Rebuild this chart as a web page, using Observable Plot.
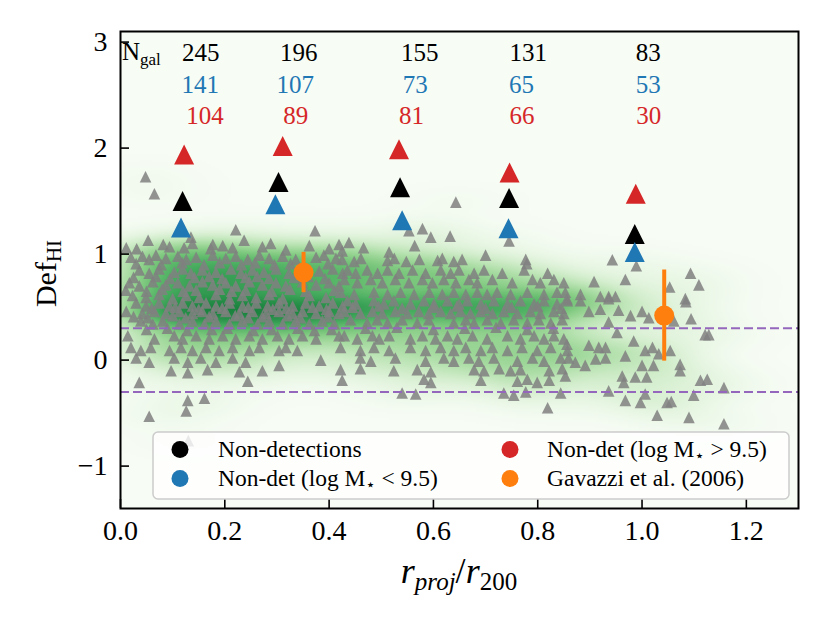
<!DOCTYPE html>
<html><head><meta charset="utf-8">
<script src="https://cdn.jsdelivr.net/npm/d3@7"></script>
<script src="https://cdn.jsdelivr.net/npm/@observablehq/plot@0.6"></script>
<style>body{margin:0;background:#fff}</style>
</head><body><div id="chart"></div>
<script>
// ---- data ----
const grayNonDet = [
[0.048,1.73],[0.065,1.57],[0.053,1.13],[0.082,1.09],[0.135,1.16],[0.221,1.23],[0.237,1.13],[0.373,1.22],[0.177,1.09],
[0.011,1.06],[0.031,1.05],[0.094,1.07],[0.122,1.06],[0.138,1.10],[0.173,1.05],[0.196,1.08],[0.215,1.06],[0.272,1.07],[0.288,1.10],[0.317,1.04],[0.362,1.08],[0.400,1.05],[0.419,1.09],
[0.020,0.97],[0.042,0.98],[0.055,0.95],[0.068,0.99],[0.087,0.96],[0.110,0.98],[0.126,0.95],[0.145,0.97],[0.177,0.99],[0.202,0.96],[0.221,0.98],[0.244,0.95],[0.266,0.99],[0.285,0.96],[0.311,0.98],[0.336,0.95],[0.375,0.97],[0.390,0.99],[0.413,0.96],
[0.030,0.91],[0.078,0.90],[0.118,0.92],[0.160,0.90],[0.190,0.92],[0.232,0.90],[0.258,0.92],[0.295,0.90],[0.326,0.91],[0.352,0.89],[0.398,0.91],
[0.036,0.85],[0.055,0.82],[0.074,0.86],[0.103,0.83],[0.119,0.86],[0.135,0.82],[0.157,0.85],[0.183,0.83],[0.212,0.86],[0.231,0.82],[0.253,0.85],[0.275,0.83],[0.298,0.86],[0.323,0.82],[0.381,0.84],[0.407,0.86],[0.426,0.82],
[0.025,0.78],[0.068,0.79],[0.095,0.77],[0.142,0.78],[0.170,0.79],[0.195,0.77],[0.240,0.78],[0.262,0.79],[0.285,0.77],[0.333,0.78],[0.360,0.79],[0.392,0.77],
[0.017,0.73],[0.036,0.70],[0.062,0.74],[0.087,0.71],[0.110,0.73],[0.132,0.70],[0.157,0.74],[0.177,0.71],[0.202,0.73],[0.221,0.70],[0.247,0.74],[0.272,0.71],[0.298,0.73],[0.317,0.70],[0.349,0.74],[0.375,0.71],[0.400,0.73],[0.419,0.70],
[0.010,0.66],[0.050,0.65],[0.080,0.67],[0.120,0.65],[0.145,0.66],[0.190,0.67],[0.213,0.65],[0.240,0.66],[0.290,0.65],[0.325,0.67],[0.355,0.65],[0.410,0.66],
[0.023,0.61],[0.049,0.59],[0.074,0.62],[0.100,0.58],[0.126,0.61],[0.151,0.59],[0.183,0.62],[0.209,0.58],[0.234,0.61],[0.260,0.59],[0.285,0.62],[0.311,0.58],[0.362,0.61],[0.394,0.59],
[0.030,0.54],[0.049,0.51],[0.074,0.54],[0.094,0.51],[0.119,0.54],[0.138,0.51],[0.164,0.54],[0.183,0.51],[0.209,0.54],[0.234,0.51],[0.260,0.54],[0.282,0.51],[0.304,0.54],[0.330,0.51],[0.355,0.54],[0.381,0.51],[0.407,0.54],[0.426,0.51],
[0.060,0.49],[0.105,0.50],[0.150,0.48],[0.195,0.49],[0.245,0.50],[0.292,0.48],[0.318,0.49],[0.368,0.50],[0.395,0.48],
[0.011,0.46],[0.042,0.44],[0.065,0.46],[0.087,0.44],[0.113,0.46],[0.138,0.44],[0.157,0.46],[0.177,0.44],[0.202,0.46],[0.228,0.44],[0.253,0.46],[0.279,0.44],[0.304,0.46],[0.330,0.44],[0.349,0.46],[0.375,0.44],[0.400,0.46],[0.419,0.44],
[0.025,0.41],[0.052,0.40],[0.100,0.42],[0.125,0.40],[0.170,0.41],[0.220,0.42],[0.245,0.40],[0.272,0.41],[0.320,0.42],[0.345,0.40],[0.398,0.41],
[0.039,0.37],[0.062,0.34],[0.081,0.37],[0.113,0.34],[0.138,0.37],[0.161,0.34],[0.183,0.37],[0.209,0.34],[0.234,0.37],[0.263,0.34],[0.285,0.37],[0.311,0.34],[0.336,0.37],[0.362,0.34],[0.387,0.37],[0.410,0.34],
[0.050,0.29],[0.090,0.30],[0.128,0.28],[0.175,0.29],[0.205,0.30],[0.255,0.28],[0.290,0.29],[0.340,0.30],[0.372,0.28],[0.405,0.29],
[0.014,0.23],[0.065,0.20],[0.103,0.23],[0.119,0.20],[0.145,0.23],[0.170,0.20],[0.196,0.23],[0.221,0.20],[0.247,0.23],[0.272,0.20],[0.301,0.23],[0.323,0.20],[0.349,0.23],[0.375,0.20],[0.419,0.23],
[0.020,0.12],[0.039,0.09],[0.058,0.12],[0.094,0.09],[0.116,0.12],[0.138,0.09],[0.164,0.12],[0.189,0.09],[0.215,0.12],[0.247,0.09],[0.266,0.12],[0.304,0.09],[0.317,0.12],[0.339,0.09],
[0.030,0.02],[0.055,-0.02],[0.103,0.02],[0.129,-0.02],[0.154,0.02],[0.183,-0.02],[0.215,0.02],[0.240,-0.02],[0.384,0.00],
[0.097,-0.10],[0.129,-0.12],[0.167,-0.09],[0.228,-0.11],[0.272,-0.10],[0.304,-0.05],
[0.036,-0.21],[0.244,-0.20],[0.129,-0.38],[0.161,-0.36],[0.126,-0.48],[0.055,-0.53],[0.130,-0.76],
[0.643,1.49],[0.579,1.24],[0.595,1.16],[0.632,1.17],[0.553,1.22],[0.745,1.125],[0.700,0.99],[0.564,1.08],[0.466,1.06],[0.438,1.11],
[0.425,1.03],[0.515,1.02],
[0.425,0.95],[0.448,0.93],[0.461,0.96],[0.512,0.94],[0.525,0.96],[0.548,0.93],[0.573,0.95],[0.608,0.94],[0.617,0.96],[0.639,0.93],[0.655,0.95],[0.777,0.95],[0.779,0.91],
[0.435,0.85],[0.451,0.82],[0.473,0.85],[0.493,0.82],[0.512,0.85],[0.534,0.82],[0.560,0.85],[0.585,0.82],[0.614,0.85],[0.633,0.82],[0.649,0.85],[0.678,0.82],[0.697,0.85],[0.732,0.82],[0.774,0.85],[0.819,0.82],
[0.429,0.76],[0.454,0.73],[0.480,0.76],[0.502,0.73],[0.527,0.76],[0.553,0.73],[0.579,0.76],[0.598,0.73],[0.620,0.76],[0.643,0.73],[0.668,0.76],[0.684,0.73],[0.713,0.76],[0.751,0.73],[0.790,0.76],[0.805,0.73],[0.831,0.76],[0.850,0.73],
[0.422,0.64],[0.448,0.62],[0.486,0.64],[0.512,0.62],[0.537,0.64],[0.563,0.62],[0.592,0.64],[0.617,0.62],[0.639,0.64],[0.662,0.62],[0.684,0.64],[0.703,0.62],[0.722,0.64],[0.748,0.62],[0.780,0.64],[0.812,0.62],[0.837,0.64],
[0.435,0.56],[0.451,0.53],[0.486,0.56],[0.505,0.53],[0.524,0.56],[0.556,0.53],[0.582,0.56],[0.601,0.53],[0.627,0.56],[0.649,0.53],[0.665,0.56],[0.691,0.53],[0.716,0.56],[0.742,0.53],[0.767,0.56],[0.793,0.53],[0.812,0.56],[0.837,0.53],[0.857,0.56],
[0.445,0.50],[0.495,0.51],[0.540,0.49],[0.600,0.50],[0.645,0.51],[0.700,0.49],[0.750,0.50],[0.800,0.51],[0.845,0.49],
[0.429,0.46],[0.460,0.44],[0.483,0.46],[0.502,0.44],[0.527,0.46],[0.550,0.44],[0.572,0.46],[0.591,0.44],[0.614,0.46],[0.633,0.44],[0.652,0.46],[0.671,0.44],[0.691,0.46],[0.713,0.44],[0.735,0.46],[0.761,0.44],[0.786,0.46],[0.805,0.44],[0.831,0.46],[0.850,0.44],
[0.441,0.38],[0.473,0.35],[0.492,0.38],[0.512,0.35],[0.540,0.38],[0.569,0.35],[0.591,0.38],[0.639,0.35],[0.662,0.38],[0.678,0.35],[0.703,0.38],[0.729,0.35],[0.754,0.38],[0.780,0.35],[0.802,0.38],[0.825,0.35],[0.847,0.38],
[0.470,0.30],[0.530,0.31],[0.600,0.29],[0.660,0.30],[0.720,0.31],[0.780,0.29],[0.830,0.30],
[0.429,0.23],[0.454,0.20],[0.483,0.23],[0.496,0.20],[0.515,0.23],[0.556,0.20],[0.579,0.23],[0.604,0.20],[0.627,0.23],[0.646,0.20],[0.675,0.23],[0.703,0.20],[0.742,0.23],[0.767,0.20],[0.793,0.23],[0.812,0.20],[0.831,0.23],[0.850,0.20],
[0.422,0.12],[0.460,0.09],[0.486,0.12],[0.515,0.09],[0.556,0.12],[0.585,0.09],[0.614,0.12],[0.639,0.09],[0.662,0.12],[0.691,0.09],[0.713,0.12],[0.742,0.09],[0.770,0.12],[0.799,0.09],[0.825,0.12],[0.857,0.09],
[0.460,0.02],[0.480,-0.01],[0.527,0.02],[0.585,-0.01],[0.620,0.02],[0.639,-0.01],[0.668,0.02],[0.687,-0.01],[0.716,0.02],[0.761,-0.01],[0.790,0.02],[0.812,-0.01],[0.844,0.02],
[0.422,-0.09],[0.460,-0.08],[0.524,-0.10],[0.569,-0.09],[0.595,-0.11],[0.678,-0.09],[0.697,-0.10],[0.726,-0.08],[0.748,-0.10],[0.767,-0.09],[0.822,-0.10],[0.847,-0.08],
[0.425,-0.19],[0.582,-0.18],[0.595,-0.21],[0.691,-0.19],[0.761,-0.20],[0.780,-0.18],[0.799,-0.21],[0.822,-0.19],
[0.540,-0.31],[0.566,-0.32],[0.735,-0.31],[0.754,-0.33],[0.777,-0.30],[0.844,-0.31],[0.819,-0.45],
[0.943,0.946],[0.989,0.89],[0.968,0.76],[0.908,0.74],[1.093,0.82],[1.109,0.71],[1.053,0.69],[0.882,0.62],[0.920,0.60],[0.936,0.60],[0.949,0.60],[0.853,0.64],[1.083,0.58],
[0.856,0.58],[0.882,0.56],[0.898,0.46],[0.920,0.48],[0.936,0.58],[0.955,0.47],[0.978,0.42],[1.000,0.46],[1.013,0.40],[1.061,0.37],[1.084,0.55],[1.094,0.39],[0.936,0.36],[0.952,0.26],[1.121,0.24],[1.128,0.24],
[0.856,0.15],[0.898,0.14],[0.917,0.12],[0.930,0.12],[0.984,0.18],[1.006,0.09],[1.020,0.12],[1.032,0.06],[1.054,0.09],
[0.859,0.02],[0.872,-0.02],[0.891,-0.05],[0.911,0.01],[0.930,0.02],[0.968,0.04],[1.000,-0.05],[1.022,-0.05],[1.073,-0.04],[1.073,-0.10],
[0.962,-0.15],[0.987,-0.16],[1.009,-0.16],[0.965,-0.21],[1.112,-0.19],[1.125,-0.18],[1.157,-0.26],[0.853,-0.15],
[0.936,-0.29],[1.006,-0.32],[1.099,-0.33],[0.968,-0.38],[0.997,-0.40],[1.048,-0.40],[1.056,-0.39],[1.029,-0.52],[1.090,-0.54],[1.157,-0.60]
];

const allX  = [0.119, 0.303, 0.536, 0.745, 0.986];
const allY  = [1.50, 1.68, 1.63, 1.53, 1.19];
const lowX  = [0.116, 0.297, 0.540, 0.744, 0.986];
const lowY  = [1.25, 1.47, 1.32, 1.245, 1.02];
const highX = [0.122, 0.311, 0.534, 0.746, 0.988];
const highY = [1.94, 2.02, 1.99, 1.77, 1.57];

const nAll  = [245, 196, 155, 131, 83];
const nLow  = [141, 107, 73, 65, 53];
const nHigh = [104, 89, 81, 66, 30];
const nAllX  = [0.154, 0.342, 0.574, 0.782, 1.012];
const nLowX  = [0.153, 0.335, 0.565, 0.769, 1.012];
const nHighX = [0.162, 0.336, 0.558, 0.770, 1.013];
const nRowY  = [2.90, 2.60, 2.30];

const gavX = [0.351, 1.0425];
const gavY = [0.826, 0.42];
const gavErr = [0.19, 0.43];

const cutLines = [0.3, -0.3];
const xTicks = [0, 0.2, 0.4, 0.6, 0.8, 1.0, 1.2];
const yTicks = [-1, 0, 1, 2, 3];

// ---- layout ----
const W = 830, H = 623, mL = 120, mR = 32, mT = 31, mB = 115;
const innerW = W - mL - mR, innerH = H - mT - mB;
const font = "'Liberation Serif', 'DejaVu Serif', serif";
const cBlack = "#000000", cBlue = "#1f77b4", cRed = "#d62728", cOrange = "#ff7f0e";

// matplotlib-like "^" triangle (width = height)
const tri = { draw(ctx, size) { const r = Math.sqrt(size / Math.PI); ctx.moveTo(0, -r); ctx.lineTo(r, r); ctx.lineTo(-r, r); ctx.closePath(); } };

// Gaussian KDE of the grey points (background shading)
const hx = 0.07, hy = 0.1;
function kde(x, y) {
  let s = 0;
  for (const p of grayNonDet) {
    const dx = (x - p[0]) / hx, dy = (y - p[1]) / hy, q = dx * dx + dy * dy;
    if (q < 20) s += Math.exp(-0.5 * q);
  }
  return s;
}
let kmax = 0;
for (let x = 0; x <= 1.3; x += 0.02) for (let y = -1.4; y <= 3.1; y += 0.03) kmax = Math.max(kmax, kde(x, y));

const series = (X, Y) => X.map((x, i) => ({x, y: Y[i]}));
const labels = (X, N, y) => X.map((x, i) => ({x, y, n: String(N[i])}));
const gav = gavX.map((x, i) => ({x, y: gavY[i], e: gavErr[i]}));

const plot = Plot.plot({
  width: W, height: H, marginLeft: mL, marginRight: mR, marginTop: mT, marginBottom: mB,
  style: {fontFamily: font, background: "#ffffff", color: "black"},
  x: {domain: [0, 1.3]},
  y: {domain: [-1.4, 3.1]},
  color: {type: "linear", scheme: "greens", domain: [0, kmax / 0.78]},
  marks: [
    Plot.raster({fill: kde, x1: 0, x2: 1.3, y1: -1.4, y2: 3.1, pixelSize: 2}),
    Plot.dot(grayNonDet, {x: d => d[0], y: d => d[1], symbol: tri, r: 5.8, fill: "#808080", fillOpacity: 0.85}),
    Plot.ruleY(cutLines, {stroke: "#9467bd", strokeWidth: 2, strokeDasharray: "9,4"}),
    Plot.dot(series(highX, highY), {x: "x", y: "y", symbol: tri, r: 10, fill: cRed}),
    Plot.dot(series(allX, allY), {x: "x", y: "y", symbol: tri, r: 10, fill: cBlack}),
    Plot.dot(series(lowX, lowY), {x: "x", y: "y", symbol: tri, r: 10, fill: cBlue}),
    Plot.ruleX(gav, {x: "x", y1: d => d.y - d.e, y2: d => d.y + d.e, stroke: cOrange, strokeWidth: 4}),
    Plot.dot(gav, {x: "x", y: "y", r: 10, fill: cOrange}),
    Plot.text(labels(nAllX, nAll, nRowY[0]), {x: "x", y: "y", text: "n", fill: cBlack, fontSize: 25}),
    Plot.text(labels(nLowX, nLow, nRowY[1]), {x: "x", y: "y", text: "n", fill: cBlue, fontSize: 25}),
    Plot.text(labels(nHighX, nHigh, nRowY[2]), {x: "x", y: "y", text: "n", fill: cRed, fontSize: 25}),
    Plot.tickX(xTicks, {x: d => d, stroke: "black", strokeWidth: 1.6, insetTop: innerH - 9}),
    Plot.tickY(yTicks, {y: d => d, stroke: "black", strokeWidth: 1.6, insetRight: innerW - 9}),
    Plot.axisX(xTicks, {tickSize: 0, tickPadding: 12, fontSize: 28, label: null, tickFormat: d => d.toFixed(1)}),
    Plot.axisY(yTicks, {tickSize: 0, tickPadding: 13, fontSize: 28, label: null, tickFormat: d => (d < 0 ? "\u2212" + Math.abs(d) : String(d))}),
    Plot.frame({stroke: "black", strokeWidth: 2})
  ]
});

const svgEl = plot.tagName.toLowerCase() === "svg" ? plot : plot.querySelector("svg");
const svg = d3.select(svgEl);
const ys = plot.scale("y");

// N_gal label
const ng = svg.append("text").attr("x", mL + 2).attr("y", ys.apply(nRowY[0]) + 8).attr("text-anchor", "start")
  .attr("font-family", font).attr("font-size", 25).attr("fill", "black");
ng.append("tspan").text("N");
ng.append("tspan").attr("font-size", 17).attr("dy", 5).text("gal");

// y label Def_HI
const yl = svg.append("text").attr("transform", `translate(56,${mT + innerH / 2 + 4}) rotate(-90)`)
  .attr("text-anchor", "middle").attr("font-family", font).attr("font-size", 30).attr("fill", "black");
yl.append("tspan").text("Def");
yl.append("tspan").attr("font-size", 21).attr("dy", 5).text("HI");

// x label r_proj / r_200
const xl = svg.append("text").attr("x", mL + innerW / 2).attr("y", 583)
  .attr("text-anchor", "middle").attr("font-family", font).attr("font-size", 36).attr("fill", "black");
xl.append("tspan").attr("font-style", "italic").text("r");
xl.append("tspan").attr("font-style", "italic").attr("font-size", 25).attr("dy", 7).text("proj");
xl.append("tspan").attr("dy", -7).text("/");
xl.append("tspan").attr("font-style", "italic").text("r");
xl.append("tspan").attr("font-size", 25).attr("dy", 7).text("200");

// legend
const lg = svg.append("g").attr("font-family", font).attr("font-size", 23.5).attr("text-anchor", "start");
lg.append("rect").attr("x", 153).attr("y", 432).attr("width", 636).attr("height", 67).attr("rx", 5)
  .attr("fill", "white").attr("fill-opacity", 0.8).attr("stroke", "#cccccc").attr("stroke-width", 1.5);
const entries = [
  {cx: 180, cy: 449.5, tx: 218, color: cBlack, parts: [["Non-detections"]]},
  {cx: 180, cy: 478.5, tx: 218, color: cBlue, parts: [["Non-det (log M"], ["\u22C6", "sub"], [" < 9.5)"]]},
  {cx: 510, cy: 449.5, tx: 547, color: cRed, parts: [["Non-det (log M"], ["\u22C6", "sub"], [" > 9.5)"]]},
  {cx: 510, cy: 478.5, tx: 547, color: cOrange, parts: [["Gavazzi et al. (2006)"]]}
];
for (const e of entries) {
  lg.append("circle").attr("cx", e.cx).attr("cy", e.cy).attr("r", 8.5).attr("fill", e.color);
  const t = lg.append("text").attr("x", e.tx).attr("y", e.cy + 7).attr("fill", "black").attr("text-anchor", "start");
  let shifted = false;
  for (const [s, kind] of e.parts) {
    const sp = t.append("tspan").text(s);
    if (kind === "sub") { sp.attr("font-size", 16).attr("dy", 4).attr("font-family", "'DejaVu Sans', sans-serif"); shifted = true; }
    else if (shifted) { sp.attr("dy", -4); shifted = false; }
  }
}

document.getElementById("chart").appendChild(plot);
</script>
</body></html>
